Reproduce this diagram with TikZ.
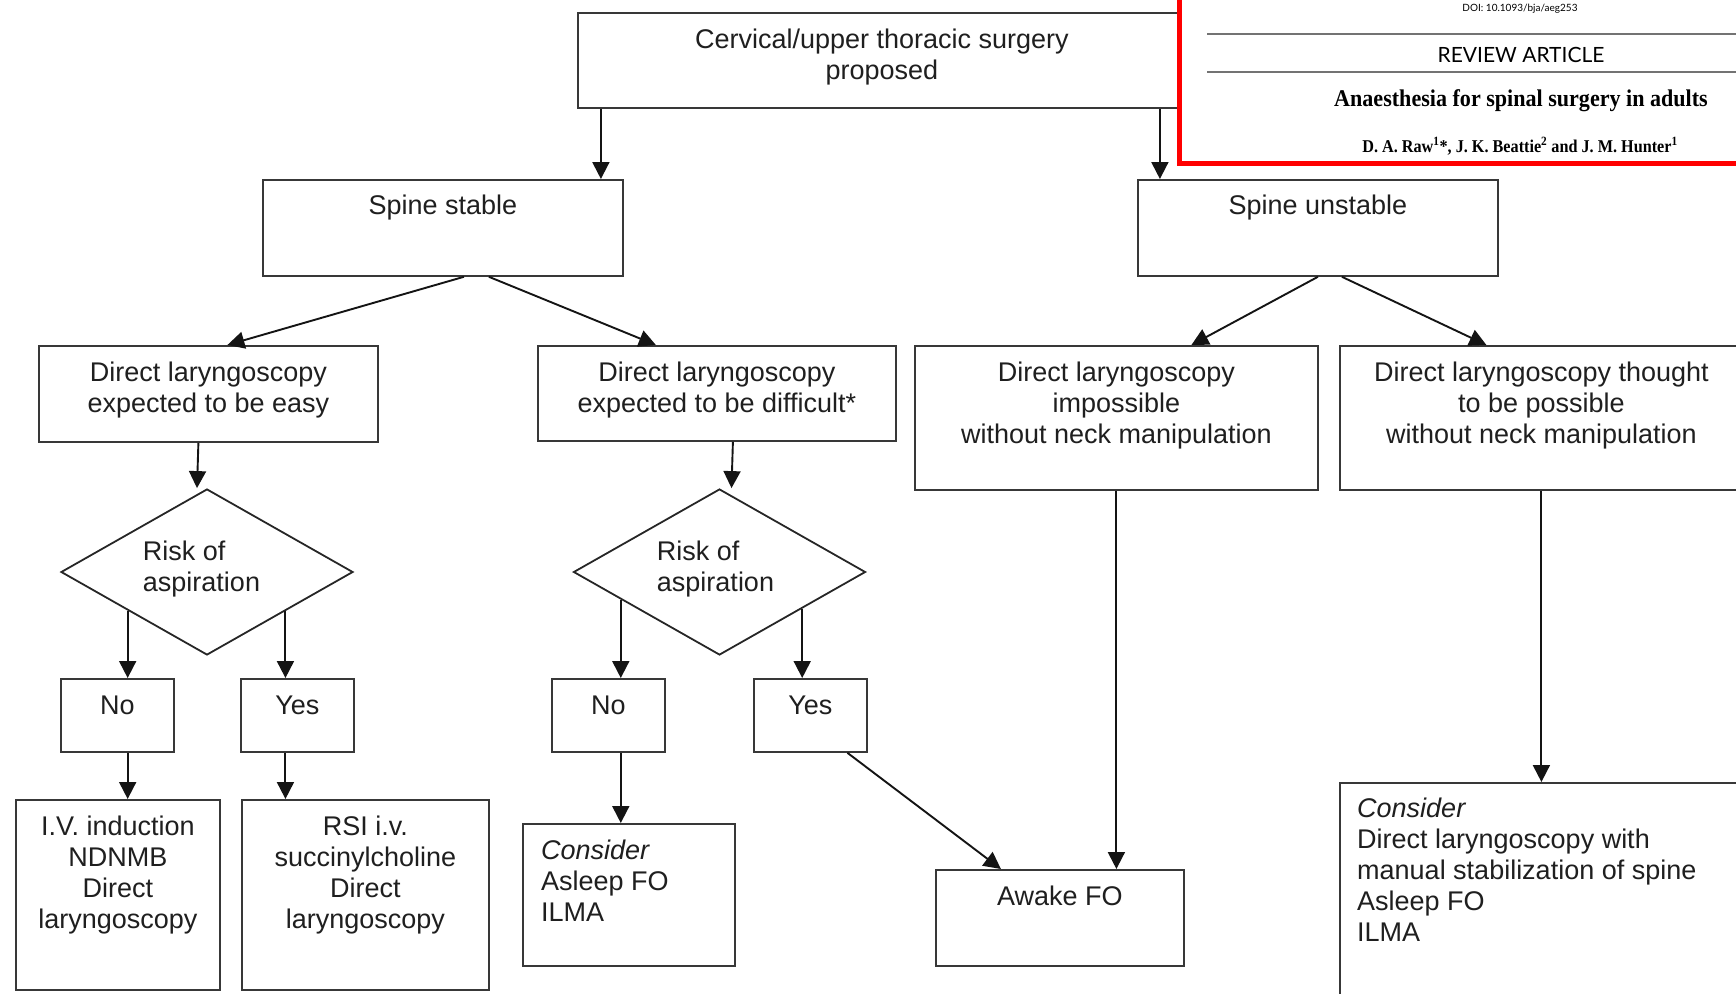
\documentclass[tikz,border=0pt]{standalone}
\usepackage{fontspec}
\usepackage{graphicx}
\setmainfont{Liberation Sans}
\newfontfamily\hdsans{Lato}
\newfontfamily\hdserif{Liberation Serif}
\usetikzlibrary{arrows.meta,shapes.geometric,calc}
\newcommand\ftxt{\fontsize{27}{31}\selectfont}
\tikzset{
  box/.style={draw=black!78, line width=1.8pt, fill=white, rectangle, inner sep=0pt, anchor=north west},
  hdrbox/.style={draw=red, line width=5pt, fill=white, rectangle, inner sep=0pt, anchor=north west},
  dia/.style={draw=black!85, line width=1.8pt, diamond, inner sep=0pt, minimum width=292pt, minimum height=166pt},
  txt/.style={font=\ftxt, text=black!88, inner sep=0pt, align=center, anchor=north},
  ltxt/.style={font=\ftxt, text=black!88, inner sep=0pt, align=left, anchor=north west},
  arr/.style={draw=black!92, line width=1.9pt, -{Triangle[width=17pt,length=17pt]}},
  rule/.style={draw=black!55, line width=1.4pt},
}
\newcommand\mkbox[6][box]{\node[#1, minimum width={(#5-#3)*1pt}, minimum height={(#6-#4)*1pt}] (#2) at (#3,#4) {};}
\begin{document}
\begin{tikzpicture}[x=1pt,y=-1pt]
\useasboundingbox (0,0) rectangle (1736,993);
% boxes
\mkbox{top}{577}{12}{1185}{107}
\mkbox{ss}{262}{179}{622}{275}
\mkbox{su}{1137}{179}{1497}{275}
\mkbox{easy}{38}{345}{377}{441}
\mkbox{dif}{537}{345}{895}{440}
\mkbox{imp}{914}{345}{1317}{489}
\mkbox{pos}{1339}{345}{1742}{489}
\mkbox{nL}{60}{678}{173}{751}
\mkbox{yL}{240}{678}{353}{751}
\mkbox{nM}{551}{678}{664}{751}
\mkbox{yM}{753}{678}{866}{751}
\mkbox{iv}{15}{799}{219}{989}
\mkbox{rsi}{241}{799}{488}{989}
\mkbox{cm}{522}{823}{734}{965}
\mkbox{aw}{935}{869}{1183}{965}
\mkbox{cr}{1339}{782}{1745}{1000}
\node[dia] (dL) at (207,572) {};
\node[dia] (dM) at (719.5,572) {};
% texts
\node[txt] (tTop) at ([yshift=-15pt]top.north) {\strut Cervical/upper thoracic surgery\\proposed};
\node[txt] (tss) at ([yshift=-14pt]ss.north) {\strut Spine stable};
\node[txt] (tsu) at ([yshift=-14pt]su.north) {\strut Spine unstable};
\node[txt] (teasy) at ([yshift=-15pt]easy.north) {\strut Direct laryngoscopy\\expected to be easy};
\node[txt] (tdif) at ([yshift=-15pt]dif.north) {\strut Direct laryngoscopy\\expected to be difficult*};
\node[txt] (timp) at ([yshift=-15pt]imp.north) {\strut Direct laryngoscopy\\impossible\\without neck manipulation};
\node[txt] (tpos) at ([yshift=-15pt]pos.north) {\strut Direct laryngoscopy thought\\to be possible\\without neck manipulation};
\node[ltxt, anchor=north] (tdL) at ([xshift=-5.5pt,yshift=33.7pt]dL.center) {\strut Risk of\\aspiration};
\node[ltxt, anchor=north] (tdM) at ([xshift=-4pt,yshift=33.7pt]dM.center) {\strut Risk of\\aspiration};
\node[txt] (tnL) at ([yshift=-15pt]nL.north) {\strut No};
\node[txt] (tyL) at ([yshift=-15pt]yL.north) {\strut Yes};
\node[txt] (tnM) at ([yshift=-15pt]nM.north) {\strut No};
\node[txt] (tyM) at ([yshift=-15pt]yM.north) {\strut Yes};
\node[txt] (tiv) at ([yshift=-15pt]iv.north) {\strut I.V. induction\\NDNMB\\Direct\\laryngoscopy};
\node[txt] (trsi) at ([yshift=-15pt]rsi.north) {\strut RSI i.v.\\succinylcholine\\Direct\\laryngoscopy};
\node[ltxt] (tcm) at ([xshift=19pt,yshift=-15pt]cm.north west) {\strut\textit{Consider}\\Asleep FO\\ILMA};
\node[txt] (taw) at ([yshift=-15pt]aw.north) {\strut Awake FO};
\node[ltxt] (tcr) at ([xshift=18pt,yshift=-14pt]cr.north west) {\strut\textit{Consider}\\Direct laryngoscopy with\\manual stabilization of spine\\Asleep FO\\ILMA};
% connectors
\coordinate (c1) at ([xshift=-281pt]top.south);
\coordinate (c2) at ([xshift=278pt]top.south);
\draw[arr] (c1) -- (c1 |- ss.north);
\draw[arr] (c2) -- (c2 |- su.north);
\draw[arr] ([xshift=21pt]ss.south) -- ([xshift=19pt]easy.north);
\draw[arr] ([xshift=46pt]ss.south) -- ([xshift=-61pt]dif.north);
\draw[arr] (su.south) -- ([xshift=75pt]imp.north);
\draw[arr] ([xshift=24pt]su.south) -- ([xshift=-55pt]pos.north);
\draw[arr] ([xshift=-10pt]easy.south) -- ([xshift=-10pt]dL.north);
\draw[arr] ([xshift=16pt]dif.south) -- ([xshift=12pt]dM.north);
\coordinate (a1) at ($(dL.south)!0.54!(dL.west)$);
\coordinate (a2) at ($(dL.south)!0.534!(dL.east)$);
\coordinate (a3) at ($(dM.south)!0.672!(dM.west)$);
\coordinate (a4) at ($(dM.south)!0.563!(dM.east)$);
\draw[arr] (a1) -- (a1 |- nL.north);
\draw[arr] (a2) -- (a2 |- yL.north);
\draw[arr] (a3) -- (a3 |- nM.north);
\draw[arr] (a4) -- (a4 |- yM.north);
\draw[arr] (a1 |- nL.south) -- (a1 |- iv.north);
\draw[arr] (a2 |- yL.south) -- (a2 |- rsi.north);
\draw[arr] (a3 |- nM.south) -- (a3 |- cm.north);
\draw[arr] ([xshift=37pt]yM.south) -- ([xshift=-59pt]aw.north);
\draw[arr] (imp.south) -- (imp.south |- aw.north);
\draw[arr] (pos.south) -- (pos.south |- cr.north);
% header
\mkbox[hdrbox]{hdr}{1177}{-20}{1760}{161}
\draw[rule] (1207,34) -- (1745,34);
\draw[rule] (1207,72) -- (1745,72);
\node[anchor=base, inner sep=0pt, font=\hdsans\fontsize{10}{12}\selectfont] (doi) at (1520,12) {DOI: 10.1093/bja/aeg253};
\node[anchor=base, inner sep=0pt, font=\hdsans\fontsize{21}{24}\selectfont] (ra) at (1521,62) {REVIEW ARTICLE};
\node[anchor=base, inner sep=0pt, font=\hdserif\bfseries\fontsize{24}{28}\selectfont] (ttl) at (1521,106) {\scalebox{0.92}[1]{Anaesthesia for spinal surgery in adults}};
\node[anchor=base, inner sep=0pt, font=\hdserif\bfseries\fontsize{18}{22}\selectfont] (au) at (1520,152) {\scalebox{0.9}[1]{D. A. Raw\textsuperscript{1}*, J. K. Beattie\textsuperscript{2} and J. M. Hunter\textsuperscript{1}}};
\end{tikzpicture}
\end{document}
